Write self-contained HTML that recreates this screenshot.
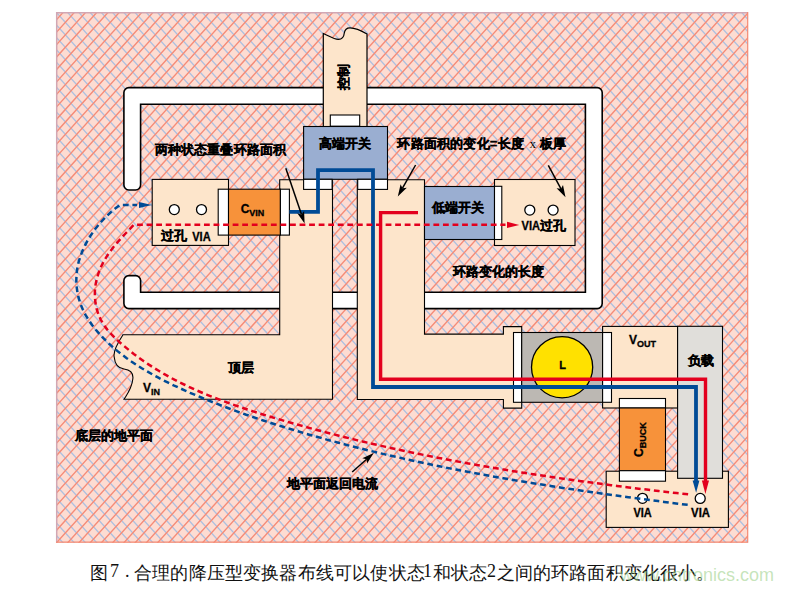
<!DOCTYPE html>
<html><head><meta charset="utf-8"><style>
html,body{margin:0;padding:0;background:#fff;width:793px;height:590px;overflow:hidden}
svg{display:block;position:absolute;left:0;top:0}
.cap{position:absolute;top:560.5px;font-family:"Liberation Serif",serif;font-size:18px;color:#111;font-weight:500;white-space:nowrap}
.wm{position:absolute;left:620px;top:564.5px;font-family:"Liberation Sans",sans-serif;font-size:18px;color:rgba(150,205,130,0.55);white-space:nowrap}
</style></head><body>
<svg width="793" height="590" viewBox="0 0 793 590"><defs><clipPath id="fc"><rect x="56" y="12" width="692" height="530.8"/></clipPath></defs><rect x="56" y="12" width="692" height="530.8" fill="#fddcd2"/><g clip-path="url(#fc)"><path d="M-572.73 0L-31.41 600 M-561.50 0L-20.18 600 M-550.26 0L-8.94 600 M-539.03 0L2.29 600 M-527.80 0L13.53 600 M-516.56 0L24.76 600 M-505.33 0L36.00 600 M-494.09 0L47.23 600 M-482.86 0L58.46 600 M-471.62 0L69.70 600 M-460.39 0L80.93 600 M-449.15 0L92.17 600 M-437.92 0L103.40 600 M-426.68 0L114.64 600 M-415.45 0L125.87 600 M-404.21 0L137.11 600 M-392.98 0L148.34 600 M-381.74 0L159.58 600 M-370.51 0L170.81 600 M-359.27 0L182.05 600 M-348.04 0L193.28 600 M-336.81 0L204.52 600 M-325.57 0L215.75 600 M-314.34 0L226.99 600 M-303.10 0L238.22 600 M-291.87 0L249.45 600 M-280.63 0L260.69 600 M-269.40 0L271.92 600 M-258.16 0L283.16 600 M-246.93 0L294.39 600 M-235.69 0L305.63 600 M-224.46 0L316.86 600 M-213.22 0L328.10 600 M-201.99 0L339.33 600 M-190.75 0L350.57 600 M-179.52 0L361.80 600 M-168.28 0L373.04 600 M-157.05 0L384.27 600 M-145.82 0L395.51 600 M-134.58 0L406.74 600 M-123.35 0L417.98 600 M-112.11 0L429.21 600 M-100.88 0L440.44 600 M-89.64 0L451.68 600 M-78.41 0L462.91 600 M-67.17 0L474.15 600 M-55.94 0L485.38 600 M-44.70 0L496.62 600 M-33.47 0L507.85 600 M-22.23 0L519.09 600 M-11.00 0L530.32 600 M0.24 0L541.56 600 M11.47 0L552.79 600 M22.71 0L564.03 600 M33.94 0L575.26 600 M45.17 0L586.50 600 M56.41 0L597.73 600 M67.64 0L608.96 600 M78.88 0L620.20 600 M90.11 0L631.43 600 M101.35 0L642.67 600 M112.58 0L653.90 600 M123.82 0L665.14 600 M135.05 0L676.37 600 M146.29 0L687.61 600 M157.52 0L698.84 600 M168.76 0L710.08 600 M179.99 0L721.31 600 M191.23 0L732.55 600 M202.46 0L743.78 600 M213.70 0L755.02 600 M224.93 0L766.25 600 M236.16 0L777.49 600 M247.40 0L788.72 600 M258.63 0L799.95 600 M269.87 0L811.19 600 M281.10 0L822.42 600 M292.34 0L833.66 600 M303.57 0L844.89 600 M314.81 0L856.13 600 M326.04 0L867.36 600 M337.28 0L878.60 600 M348.51 0L889.83 600 M359.75 0L901.07 600 M370.98 0L912.30 600 M382.22 0L923.54 600 M393.45 0L934.77 600 M404.69 0L946.01 600 M415.92 0L957.24 600 M427.15 0L968.48 600 M438.39 0L979.71 600 M449.62 0L990.94 600 M460.86 0L1002.18 600 M472.09 0L1013.41 600 M483.33 0L1024.65 600 M494.56 0L1035.88 600 M505.80 0L1047.12 600 M517.03 0L1058.35 600 M528.27 0L1069.59 600 M539.50 0L1080.82 600 M550.74 0L1092.06 600 M561.97 0L1103.29 600 M573.21 0L1114.53 600 M584.44 0L1125.76 600 M595.67 0L1137.00 600 M606.91 0L1148.23 600 M618.14 0L1159.47 600 M629.38 0L1170.70 600 M640.61 0L1181.93 600 M651.85 0L1193.17 600 M663.08 0L1204.40 600 M674.32 0L1215.64 600 M685.55 0L1226.87 600 M696.79 0L1238.11 600 M708.02 0L1249.34 600 M719.26 0L1260.58 600 M730.49 0L1271.81 600 M741.73 0L1283.05 600 M752.96 0L1294.28 600 M764.20 0L1305.52 600 M775.43 0L1316.75 600 M786.66 0L1327.99 600 M797.90 0L1339.22 600 M809.13 0L1350.46 600 M820.37 0L1361.69 600" stroke="#adc0e0" stroke-width="1.35" fill="none"/><path d="M-15.58 0L-556.90 600 M-4.34 0L-545.66 600 M6.89 0L-534.43 600 M18.13 0L-523.19 600 M29.36 0L-511.96 600 M40.60 0L-500.72 600 M51.83 0L-489.49 600 M63.07 0L-478.26 600 M74.30 0L-467.02 600 M85.53 0L-455.79 600 M96.77 0L-444.55 600 M108.00 0L-433.32 600 M119.24 0L-422.08 600 M130.47 0L-410.85 600 M141.71 0L-399.61 600 M152.94 0L-388.38 600 M164.18 0L-377.14 600 M175.41 0L-365.91 600 M186.65 0L-354.67 600 M197.88 0L-343.44 600 M209.12 0L-332.20 600 M220.35 0L-320.97 600 M231.59 0L-309.74 600 M242.82 0L-298.50 600 M254.06 0L-287.27 600 M265.29 0L-276.03 600 M276.52 0L-264.80 600 M287.76 0L-253.56 600 M298.99 0L-242.33 600 M310.23 0L-231.09 600 M321.46 0L-219.86 600 M332.70 0L-208.62 600 M343.93 0L-197.39 600 M355.17 0L-186.15 600 M366.40 0L-174.92 600 M377.64 0L-163.68 600 M388.87 0L-152.45 600 M400.11 0L-141.21 600 M411.34 0L-129.98 600 M422.58 0L-118.75 600 M433.81 0L-107.51 600 M445.05 0L-96.28 600 M456.28 0L-85.04 600 M467.51 0L-73.81 600 M478.75 0L-62.57 600 M489.98 0L-51.34 600 M501.22 0L-40.10 600 M512.45 0L-28.87 600 M523.69 0L-17.63 600 M534.92 0L-6.40 600 M546.16 0L4.84 600 M557.39 0L16.07 600 M568.63 0L27.31 600 M579.86 0L38.54 600 M591.10 0L49.78 600 M602.33 0L61.01 600 M613.57 0L72.24 600 M624.80 0L83.48 600 M636.03 0L94.71 600 M647.27 0L105.95 600 M658.50 0L117.18 600 M669.74 0L128.42 600 M680.97 0L139.65 600 M692.21 0L150.89 600 M703.44 0L162.12 600 M714.68 0L173.36 600 M725.91 0L184.59 600 M737.15 0L195.83 600 M748.38 0L207.06 600 M759.62 0L218.30 600 M770.85 0L229.53 600 M782.09 0L240.77 600 M793.32 0L252.00 600 M804.56 0L263.23 600 M815.79 0L274.47 600 M827.02 0L285.70 600 M838.26 0L296.94 600 M849.49 0L308.17 600 M860.73 0L319.41 600 M871.96 0L330.64 600 M883.20 0L341.88 600 M894.43 0L353.11 600 M905.67 0L364.35 600 M916.90 0L375.58 600 M928.14 0L386.82 600 M939.37 0L398.05 600 M950.61 0L409.29 600 M961.84 0L420.52 600 M973.08 0L431.76 600 M984.31 0L442.99 600 M995.55 0L454.22 600 M1006.78 0L465.46 600 M1018.01 0L476.69 600 M1029.25 0L487.93 600 M1040.48 0L499.16 600 M1051.72 0L510.40 600 M1062.95 0L521.63 600 M1074.19 0L532.87 600 M1085.42 0L544.10 600 M1096.66 0L555.34 600 M1107.89 0L566.57 600 M1119.13 0L577.81 600 M1130.36 0L589.04 600 M1141.60 0L600.28 600 M1152.83 0L611.51 600 M1164.07 0L622.75 600 M1175.30 0L633.98 600 M1186.54 0L645.21 600 M1197.77 0L656.45 600 M1209.00 0L667.68 600 M1220.24 0L678.92 600 M1231.47 0L690.15 600 M1242.71 0L701.39 600 M1253.94 0L712.62 600 M1265.18 0L723.86 600 M1276.41 0L735.09 600 M1287.65 0L746.33 600 M1298.88 0L757.56 600 M1310.12 0L768.80 600 M1321.35 0L780.03 600 M1332.59 0L791.27 600 M1343.82 0L802.50 600 M1355.06 0L813.73 600 M1366.29 0L824.97 600 M1377.53 0L836.20 600" stroke="#f58c78" stroke-width="1.4" fill="none"/></g><path d="M56.7 542.8 L56.7 12.7 L748 12.7" stroke="#d2a7b3" stroke-width="1.5" fill="none"/><path d="M56 542.2 L747.7 542.2 L747.7 12" stroke="#f48a74" stroke-width="1.2" fill="none"/><path d="M123.9 185.0 L123.9 92.6 A5 5 0 0 1 128.9 87.6 L597.2 87.6 A5 5 0 0 1 602.2 92.6 L602.2 303.6 A5 5 0 0 1 597.2 308.6 L128.9 308.6 A5 5 0 0 1 123.9 303.6 L123.9 280.6 A5 5 0 0 1 128.9 275.6 L135.6 275.6 A5 5 0 0 1 140.6 280.6 L140.6 292.2 L585.4 292.2 L585.4 104.3 L140.6 104.3 L140.6 185.0 A5 5 0 0 1 135.6 190.0 L128.9 190.0 A5 5 0 0 1 123.9 185.0 Z" fill="#fff" stroke="#000" stroke-width="1.6"/><path d="M323.3 33.5 C329 36 334 39.5 338.4 39.4 C343 39.3 344 36 344.3 33 C344.8 29.5 346.5 27.8 350 27.8 C355 27.8 362 31 367 34 L367 126.5 L323.3 126.5 Z" fill="#fde5cb" stroke="#000" stroke-width="1.2"/><rect x="330.3" y="115" width="29.40" height="11.20" fill="#fff" stroke="#000" stroke-width="1.1"/><path d="M279.7 179.7 L332.5 179.7 L332.5 399.3 L124 399.3 C128 393 132 388 132.8 379 C133.5 374 131 370 124 369 C120 368.5 115 366 114.2 357 C113 352 117 344 123 334.8 L279.7 334.8 Z" fill="#fde5cb" stroke="#000" stroke-width="1.1"/><path d="M357.3 179.7 L424.5 179.7 L424.5 334.1 L503.4 334.1 L503.4 326.6 L521.7 326.6 L521.7 408.1 L503.4 408.1 L503.4 399.5 L357.3 399.5 Z" fill="#fde5cb" stroke="#000" stroke-width="1.1"/><rect x="152.2" y="179.4" width="76.30" height="66.00" fill="#fde5cb" stroke="#000" stroke-width="1.1"/><rect x="494.5" y="179.5" width="80.50" height="66.00" fill="#fde5cb" stroke="#000" stroke-width="1.1"/><rect x="602.6" y="326.4" width="75.00" height="81.60" fill="#fde5cb" stroke="#000" stroke-width="1.1"/><rect x="606.2" y="471.2" width="122.20" height="56.20" fill="#fde5cb" stroke="#000" stroke-width="1.1"/><rect x="303.6" y="126.5" width="83.90" height="52.80" fill="#9aaed1" stroke="#000" stroke-width="1.1"/><rect x="303.6" y="179.3" width="28.50" height="10.10" fill="#fff" stroke="#000" stroke-width="1.1"/><rect x="357.7" y="179.3" width="29.80" height="10.10" fill="#fff" stroke="#000" stroke-width="1.1"/><rect x="424.5" y="186.5" width="70.00" height="53.00" fill="#9aaed1" stroke="#000" stroke-width="1.1"/><rect x="494.5" y="186.3" width="7.30" height="53.20" fill="#fff" stroke="#000" stroke-width="1.1"/><rect x="218.2" y="189.2" width="10.30" height="45.90" fill="#fff" stroke="#000" stroke-width="1.1"/><rect x="228.5" y="189.2" width="51.90" height="45.90" fill="#f7923a" stroke="#000" stroke-width="1.1"/><rect x="280.4" y="189.2" width="9.00" height="45.90" fill="#fff" stroke="#000" stroke-width="1.1"/><rect x="513.5" y="332.5" width="8.20" height="69.80" fill="#fff" stroke="#000" stroke-width="1.1"/><rect x="521.7" y="332.5" width="80.90" height="69.80" fill="#bcb8b3" stroke="#000" stroke-width="1.1"/><rect x="602.6" y="332.5" width="8.90" height="69.80" fill="#fff" stroke="#000" stroke-width="1.1"/><circle cx="562.1" cy="367.2" r="30.6" fill="#ffe100" stroke="#000" stroke-width="1.3"/><rect x="677.6" y="326.3" width="44.90" height="152.00" fill="#e0deda" stroke="#000" stroke-width="1.1"/><rect x="619.4" y="398.5" width="46.10" height="9.50" fill="#fff" stroke="#000" stroke-width="1.1"/><rect x="619.4" y="408" width="46.10" height="62.70" fill="#f7923a" stroke="#000" stroke-width="1.1"/><rect x="619.4" y="470.7" width="46.10" height="10.50" fill="#fff" stroke="#000" stroke-width="1.1"/><circle cx="174.3" cy="209.6" r="5" fill="#fff" stroke="#000" stroke-width="1.3"/><circle cx="201.5" cy="209.6" r="5" fill="#fff" stroke="#000" stroke-width="1.3"/><circle cx="529.8" cy="210.1" r="5" fill="#fff" stroke="#000" stroke-width="1.3"/><circle cx="553.1" cy="210.1" r="5" fill="#fff" stroke="#000" stroke-width="1.3"/><circle cx="642.5" cy="498.3" r="5" fill="#fff" stroke="#000" stroke-width="1.3"/><circle cx="700.2" cy="498.4" r="5" fill="#fff" stroke="#000" stroke-width="1.3"/><path d="M289.4 211.9 L318 211.9 L318 170.2 L373 170.2 L373 387 L696 387 L696 482" fill="none" stroke="#004b96" stroke-width="3.8"/><path d="M692.6 480.5 L699.4 480.5 L696.1 492.8 Z" fill="#004b96"/><path d="M418 212.6 L380.6 212.6 L380.6 379.2 L705.5 379.2 L705.5 482" fill="none" stroke="#e3001e" stroke-width="3.4"/><path d="M701.9 480.5 L709 480.5 L705.4 494 Z" fill="#e3001e"/><path d="M137.1 205.0 L120 205.0 L115.2 208.6 L110.5 212.5 L106.1 216.6 L102.0 220.9 L98.0 225.5 L94.3 230.2 L90.9 235.2 L87.7 240.3 L84.9 245.6 L82.4 251.1 L80.3 256.7 L78.5 262.5 L77.3 268.4 L76.5 274.3 L76.3 280.4 L76.6 286.4 L77.4 292.3 L78.7 298.2 L80.5 304.0 L82.8 309.5 L85.5 314.9 L88.7 320.0 L92.1 325.0 L95.8 329.7 L99.8 334.3 L103.9 338.7 L108.2 342.9 L112.6 346.9 L117.2 350.9 L121.9 354.6 L126.7 358.2 L131.7 361.7 L136.7 365.0 L141.8 368.2 L147.0 371.3 L152.2 374.3 L157.5 377.2 L162.8 380.0 L168.2 382.7 L173.6 385.3 L179.1 387.8 L184.6 390.3 L190.1 392.8 L195.6 395.1 L201.2 397.5 L206.7 399.8 L212.3 402.0 L217.9 404.2 L223.5 406.4 L229.2 408.5 L234.8 410.6 L240.5 412.6 L246.2 414.7 L251.9 416.6 L257.6 418.6 L263.3 420.5 L269.0 422.3 L274.8 424.2 L280.5 426.0 L286.3 427.8 L292.0 429.5 L297.8 431.3 L303.6 433.0 L309.3 434.7 L315.1 436.3 L320.9 437.9 L326.7 439.6 L332.5 441.1 L338.4 442.7 L344.2 444.2 L350.0 445.8 L355.9 447.3 L361.7 448.7 L367.5 450.2 L373.4 451.6 L379.3 453.0 L385.1 454.4 L391.0 455.8 L396.9 457.1 L402.7 458.4 L408.6 459.7 L414.5 461.0 L420.4 462.3 L426.3 463.5 L432.2 464.8 L438.1 466.0 L444.0 467.2 L449.9 468.4 L455.8 469.5 L461.7 470.7 L467.6 471.8 L473.5 472.9 L479.5 474.0 L485.4 475.1 L491.3 476.1 L497.3 477.2 L503.2 478.2 L509.1 479.2 L515.1 480.3 L521.0 481.2 L527.0 482.2 L532.9 483.2 L538.8 484.1 L544.8 485.1 L550.7 486.0 L556.7 486.9 L562.7 487.9 L568.6 488.7 L574.6 489.6 L580.5 490.5 L586.5 491.4 L592.5 492.2 L598.4 493.1 L604.4 493.9 L610.3 494.8 L616.3 495.6 L622.3 496.4 L628.3 497.2 L634.2 498.0 L640.2 498.8 L646.2 499.6 L652.1 500.3 L658.1 501.1 L664.1 501.9 L670.1 502.7 L676.0 503.4 L682.0 504.2 L688.0 504.9" fill="none" stroke="#004b96" stroke-width="2.5" stroke-dasharray="5.8 3.75" stroke-dashoffset="1.11"/><path d="M139 201.9 L151.8 205 L139 208.1 Z" fill="#004b96"/><path d="M505.5 224.8 L133.8 224.8 L129.7 229.2 L125.5 233.5 L121.4 237.9 L117.4 242.4 L113.5 247.0 L109.9 251.8 L106.5 256.8 L103.5 261.9 L100.8 267.3 L98.6 272.9 L96.8 278.6 L95.6 284.5 L94.9 290.5 L94.9 296.5 L95.4 302.5 L96.5 308.4 L98.3 314.1 L100.7 319.6 L103.7 324.8 L107.3 329.6 L111.3 334.1 L115.5 338.4 L119.9 342.5 L124.5 346.4 L129.1 350.2 L133.8 354.0 L138.6 357.6 L143.5 361.0 L148.5 364.4 L153.6 367.7 L158.7 370.8 L163.9 373.9 L169.1 376.8 L174.4 379.7 L179.7 382.4 L185.1 385.0 L190.6 387.6 L196.0 390.1 L201.6 392.5 L207.1 394.8 L212.7 397.0 L218.3 399.2 L223.9 401.3 L229.6 403.4 L235.2 405.4 L240.9 407.3 L246.6 409.2 L252.3 411.1 L258.1 412.9 L263.8 414.7 L269.6 416.5 L275.3 418.2 L281.1 419.9 L286.8 421.6 L292.6 423.2 L298.4 424.9 L304.2 426.5 L310.0 428.1 L315.8 429.7 L321.6 431.2 L327.4 432.7 L333.2 434.2 L339.0 435.7 L344.9 437.2 L350.7 438.6 L356.6 440.1 L362.4 441.5 L368.2 442.8 L374.1 444.2 L380.0 445.5 L385.8 446.9 L391.7 448.2 L397.6 449.5 L403.4 450.7 L409.3 452.0 L415.2 453.2 L421.1 454.4 L427.0 455.6 L432.9 456.8 L438.8 457.9 L444.7 459.1 L450.6 460.2 L456.5 461.3 L462.4 462.4 L468.3 463.5 L474.2 464.5 L480.1 465.6 L486.1 466.6 L492.0 467.6 L497.9 468.6 L503.8 469.6 L509.8 470.6 L515.7 471.5 L521.7 472.5 L527.6 473.4 L533.5 474.3 L539.5 475.2 L545.4 476.1 L551.4 477.0 L557.3 477.9 L563.3 478.7 L569.2 479.6 L575.2 480.4 L581.1 481.2 L587.1 482.0 L593.0 482.8 L599.0 483.6 L605.0 484.4 L610.9 485.2 L616.9 485.9 L622.8 486.7 L628.8 487.4 L634.8 488.2 L640.7 488.9 L646.7 489.6 L652.7 490.3 L658.6 491.0 L664.6 491.7 L670.6 492.4 L676.6 493.1 L682.5 493.7 L688.5 494.4" fill="none" stroke="#e3001e" stroke-width="2.5" stroke-dasharray="5.8 3.76" stroke-dashoffset="0.63"/><path d="M507 221.8 L519.3 224.9 L507 228 Z" fill="#e3001e"/><path d="M285.8 168.2 L301.5 214.5" stroke="#000" stroke-width="1.5"/><path d="M304.6 223.5 L297.3 213.3 L301.5 214.5 L304.1 211.0 Z" fill="#000"/><path d="M415.6 165 L402.5 188.2" stroke="#000" stroke-width="1.5"/><path d="M397.8 196.5 L400.6 184.3 L402.5 188.2 L406.8 187.8 Z" fill="#000"/><path d="M548.3 165.3 L561.0 188.8" stroke="#000" stroke-width="1.5"/><path d="M565.5 197.2 L556.6 188.3 L561.0 188.8 L563.0 184.9 Z" fill="#000"/><path d="M352.2 472 L366.6 459.3" stroke="#000" stroke-width="1.5"/><path d="M373.7 453 L367.1 463.6 L366.6 459.3 L362.3 458.2 Z" fill="#000"/><text x="154.7" y="154.0" font-size="13" font-family="Liberation Sans, sans-serif" font-weight="bold" stroke="#000" stroke-width="0.3" letter-spacing="0.15">两种状态重叠环路面积</text><text x="318.9" y="148.0" font-size="13" font-family="Liberation Sans, sans-serif" font-weight="bold" stroke="#000" stroke-width="0.3" >高端开关</text><text x="397.4" y="148.0" font-size="13" font-family="Liberation Sans, sans-serif" font-weight="bold" stroke="#000" stroke-width="0.3" letter-spacing="0.2">环路面积的变化=长度</text><text x="529.5" y="147.8" font-size="13" font-family="Liberation Serif, serif">x</text><text x="539.8" y="148.0" font-size="13" font-family="Liberation Sans, sans-serif" font-weight="bold" stroke="#000" stroke-width="0.3" letter-spacing="0.2">板厚</text><text x="432.4" y="211.8" font-size="13" font-family="Liberation Sans, sans-serif" font-weight="bold" stroke="#000" stroke-width="0.3" >低端开关</text><text x="161.4" y="240.3" font-size="13" font-family="Liberation Sans, sans-serif" font-weight="bold" stroke="#000" stroke-width="0.3" >过孔</text><text x="192.2" y="240.9" font-size="12" font-family="Liberation Sans, sans-serif" font-weight="bold" stroke="#000" stroke-width="0.3" textLength="18.5" lengthAdjust="spacingAndGlyphs">VIA</text><text x="521.5" y="230.4" font-size="12" font-family="Liberation Sans, sans-serif" font-weight="bold" stroke="#000" stroke-width="0.3" textLength="18.5" lengthAdjust="spacingAndGlyphs">VIA</text><text x="539.8" y="229.8" font-size="13" font-family="Liberation Sans, sans-serif" font-weight="bold" stroke="#000" stroke-width="0.3" >过孔</text><text x="453.3" y="276.1" font-size="13" font-family="Liberation Sans, sans-serif" font-weight="bold" stroke="#000" stroke-width="0.3" >环路变化的长度</text><text x="228" y="372.1" font-size="13" font-family="Liberation Sans, sans-serif" font-weight="bold" stroke="#000" stroke-width="0.3" >顶层</text><text x="75.4" y="439.8" font-size="13" font-family="Liberation Sans, sans-serif" font-weight="bold" stroke="#000" stroke-width="0.3" >底层的地平面</text><text x="286.7" y="488.2" font-size="13" font-family="Liberation Sans, sans-serif" font-weight="bold" stroke="#000" stroke-width="0.3" >地平面返回电流</text><text x="687.5" y="365.0" font-size="13" font-family="Liberation Sans, sans-serif" font-weight="bold" stroke="#000" stroke-width="0.3" >负载</text><text x="633.4" y="516.9" font-size="12" font-family="Liberation Sans, sans-serif" font-weight="bold" stroke="#000" stroke-width="0.3" textLength="18.3" lengthAdjust="spacingAndGlyphs">VIA</text><text x="691.1" y="516.9" font-size="12" font-family="Liberation Sans, sans-serif" font-weight="bold" stroke="#000" stroke-width="0.3" textLength="18.9" lengthAdjust="spacingAndGlyphs">VIA</text><text x="559.3" y="369.3" font-size="11" font-family="Liberation Sans, sans-serif" font-weight="bold" stroke="#000" stroke-width="0.3" >L</text><text x="240.7" y="213.0" font-size="12" font-family="Liberation Sans, sans-serif" font-weight="bold" stroke="#000" stroke-width="0.3" >C<tspan font-size="9" dy="3">VIN</tspan></text><text x="143.0" y="391.6" font-size="12" font-family="Liberation Sans, sans-serif" font-weight="bold" stroke="#000" stroke-width="0.3" >V<tspan font-size="9" dy="3">IN</tspan></text><text x="629.0" y="344.4" font-size="12" font-family="Liberation Sans, sans-serif" font-weight="bold" stroke="#000" stroke-width="0.3" >V<tspan font-size="9" dy="2.5">OUT</tspan></text><text x="0" y="0" font-size="13" font-family="Liberation Sans, sans-serif" font-weight="bold" stroke="#000" stroke-width="0.3" transform="translate(348.3 90.2) rotate(-90)">控制</text><text x="0" y="0" font-size="12" font-family="Liberation Sans, sans-serif" font-weight="bold" stroke="#000" stroke-width="0.3" transform="translate(643.2 457) rotate(-90)">C<tspan font-size="9" dy="3">BUCK</tspan></text></svg>
<div class="cap" style="left:90px;letter-spacing:0px">图</div><div class="cap" style="left:110px;letter-spacing:0px">7</div><div class="cap" style="left:125px;letter-spacing:0px">.</div><div class="cap" style="left:134px;letter-spacing:0.18px">合理的降压型变换器布线可以使状态</div><div class="cap" style="left:423px;letter-spacing:0px">1</div><div class="cap" style="left:432.5px;letter-spacing:0.18px">和状态</div><div class="cap" style="left:487px;letter-spacing:0px">2</div><div class="cap" style="left:496.5px;letter-spacing:0.18px">之间的环路面积变化很小。</div>
<div class="wm">www.cntronics.com</div>
</body></html>
